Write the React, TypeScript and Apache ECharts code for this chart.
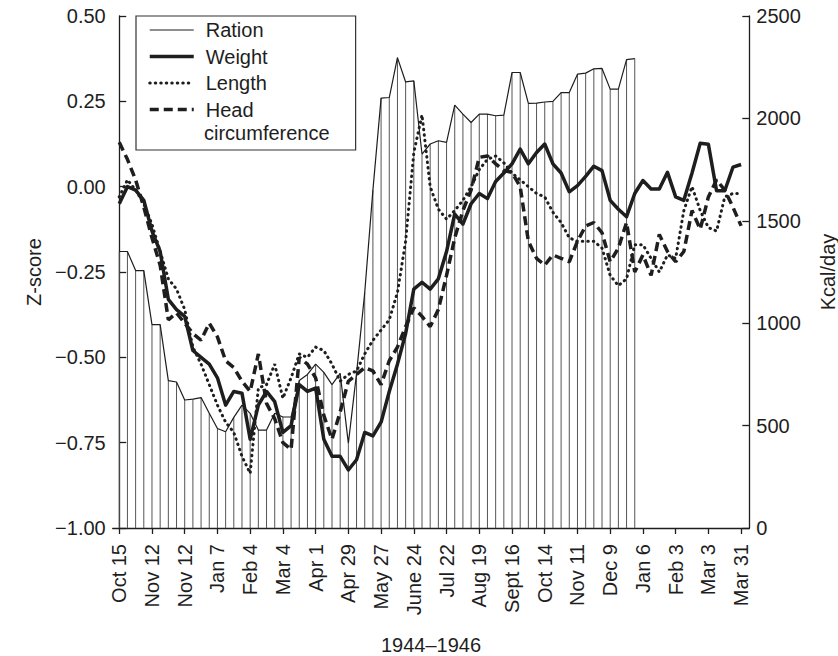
import React, { useEffect, useRef } from 'react';
import * as echarts from 'echarts';

// Tick labels every 4 weeks (weekly data, Oct 15 1944 – Mar 31 1946)
const tickLabels = ['Oct 15', 'Nov 12', 'Nov 12', 'Jan 7', 'Feb 4', 'Mar 4', 'Apr 1', 'Apr 29', 'May 27', 'June 24', 'Jul 22', 'Aug 19', 'Sept 16', 'Oct 14', 'Nov 11', 'Dec 9', 'Jan 6', 'Feb 3', 'Mar 3', 'Mar 31'];
const weekCount = 77;

// Kcal/day (right axis), weekly, ends Dec 30 1945
const ration = [1350, 1350, 1257, 1257, 993, 993, 720, 713, 625, 629, 637, 560, 486, 470, 540, 600, 560, 478, 478, 560, 542, 542, 720, 750, 800, 760, 700, 755, 413, 755, 1150, 1650, 2099, 2102, 2297, 2178, 2183, 1826, 1875, 1891, 1883, 2065, 2021, 1980, 2021, 2021, 2013, 2016, 2224, 2224, 2073, 2075, 2080, 2083, 2126, 2126, 2216, 2221, 2242, 2244, 2143, 2143, 2287, 2292];

// Z-scores (left axis)
const weight = [-0.05, 0.0, -0.01, -0.04, -0.13, -0.19, -0.33, -0.36, -0.38, -0.48, -0.5, -0.52, -0.56, -0.64, -0.6, -0.605, -0.74, -0.64, -0.6, -0.63, -0.72, -0.7, -0.58, -0.6, -0.59, -0.74, -0.79, -0.79, -0.83, -0.8, -0.72, -0.73, -0.69, -0.6, -0.52, -0.43, -0.3, -0.28, -0.3, -0.27, -0.19, -0.08, -0.11, -0.05, -0.02, -0.035, 0.015, 0.04, 0.067, 0.11, 0.067, 0.1, 0.125, 0.067, 0.04, -0.015, 0.003, 0.03, 0.06, 0.047, -0.04, -0.066, -0.088, -0.02, 0.018, -0.007, -0.007, 0.042, -0.03, -0.04, 0.04, 0.127, 0.124, -0.012, -0.012, 0.057, 0.065];
const lengthZ = [-0.03, 0.02, -0.01, -0.05, -0.11, -0.19, -0.27, -0.3, -0.36, -0.47, -0.52, -0.58, -0.64, -0.69, -0.72, -0.79, -0.84, -0.59, -0.58, -0.52, -0.62, -0.56, -0.49, -0.5, -0.47, -0.48, -0.52, -0.57, -0.55, -0.54, -0.49, -0.45, -0.42, -0.39, -0.31, -0.16, 0.1, 0.21, 0.0, -0.066, -0.095, -0.07, -0.04, 0.0, 0.05, 0.08, 0.09, 0.07, 0.04, 0.02, 0.0, -0.02, -0.03, -0.075, -0.105, -0.15, -0.16, -0.16, -0.16, -0.18, -0.26, -0.29, -0.27, -0.17, -0.17, -0.21, -0.25, -0.2, -0.21, -0.07, 0.0, -0.07, -0.12, -0.13, -0.03, -0.02, -0.02];
const headZ = [0.13, 0.08, 0.02, -0.06, -0.15, -0.23, -0.39, -0.37, -0.4, -0.43, -0.45, -0.4, -0.44, -0.51, -0.53, -0.57, -0.6, -0.49, -0.635, -0.68, -0.75, -0.77, -0.5, -0.52, -0.56, -0.67, -0.74, -0.66, -0.57, -0.55, -0.53, -0.54, -0.58, -0.51, -0.47, -0.41, -0.355, -0.38, -0.41, -0.36, -0.26, -0.15, -0.07, -0.01, 0.086, 0.09, 0.067, 0.047, 0.042, 0.0, -0.16, -0.21, -0.23, -0.2, -0.21, -0.22, -0.16, -0.115, -0.105, -0.135, -0.22, -0.18, -0.105, -0.25, -0.2, -0.26, -0.14, -0.19, -0.22, -0.19, -0.07, -0.125, -0.03, 0.02, -0.01, -0.06, -0.115];

const FONT = '"Liberation Sans", Arial, Helvetica, sans-serif';
const INK = '#1e1e1e';

export default function App() {
  const ref = useRef<HTMLDivElement>(null);
  useEffect(() => {
    if (!ref.current) return;
    document.documentElement.style.overflow = 'hidden';
    document.body.style.margin = '0';
    document.body.style.overflow = 'hidden';
    const chart = echarts.init(ref.current, null, { renderer: 'svg', width: 838, height: 656 });
    const pairs = (arr: number[]) => arr.map((v, i) => [i, v]);
    const tickWeeks = tickLabels.map((_, k) => k * 4);
    const axisLineStyle = { color: INK, width: 1.3 };
    const labelStyle = { fontSize: 20, color: INK, fontFamily: FONT };

    const option: any = {
      animation: false,
      backgroundColor: '#ffffff',
      textStyle: { fontFamily: FONT },
      grid: { left: 112.7, right: 88.7, top: 16, bottom: 128, containLabel: false, outerBoundsMode: 'none' },
      xAxis: {
        type: 'value', min: -0.8, max: weekCount,
        axisLine: { show: true, onZero: false, lineStyle: axisLineStyle },
        axisTick: { show: true, length: 6, lineStyle: axisLineStyle, customValues: tickWeeks },
        axisLabel: {
          rotate: 90, margin: 16, ...labelStyle, customValues: tickWeeks,
          formatter: (v: number) => tickLabels[Math.round(v / 4)] ?? '',
        },
        splitLine: { show: false },
        name: '1944–1946', nameLocation: 'middle', nameGap: 107,
        nameTextStyle: labelStyle,
      },
      yAxis: [
        {
          type: 'value', min: -1, max: 0.5, interval: 0.25, position: 'left',
          axisLine: { show: true, lineStyle: axisLineStyle },
          axisTick: { show: true, inside: true, length: 7, lineStyle: axisLineStyle },
          axisLabel: {
            ...labelStyle, margin: 7,
            formatter: (v: number) => (v < 0 ? '\u2212' : '') + Math.abs(v).toFixed(2),
          },
          splitLine: { show: false },
          name: 'Z-score', nameLocation: 'middle', nameRotate: 90, nameGap: 66,
          nameTextStyle: labelStyle,
        },
        {
          type: 'value', min: 0, max: 2500, interval: 500, position: 'right',
          axisLine: { show: true, lineStyle: axisLineStyle },
          axisTick: { show: true, inside: true, length: 7, lineStyle: axisLineStyle },
          axisLabel: { ...labelStyle, margin: 7, formatter: (v: number) => String(v) },
          splitLine: { show: false },
          name: 'Kcal/day', nameLocation: 'middle', nameRotate: 90, nameGap: 69,
          nameTextStyle: labelStyle,
        },
      ],
      legend: {
        show: true, orient: 'vertical', left: 136, top: 16,
        padding: [2.5, 88, 29, 12],
        itemWidth: 44, itemHeight: 14, itemGap: 3.5,
        borderColor: '#333', borderWidth: 1.2, backgroundColor: '#fff',
        textStyle: { fontSize: 20, lineHeight: 23, color: INK, fontFamily: FONT, padding: [0, 0, 0, 7] },
        itemStyle: { color: 'rgba(0,0,0,0)', borderWidth: 0, opacity: 0 },
        formatter: (name: string) => (name === 'Head circumference' ? 'Head' : name),
        data: [
          { name: 'Ration', lineStyle: { width: 1.2, color: INK, type: 'solid' } },
          { name: 'Weight', lineStyle: { width: 3.5, color: INK, type: 'solid' } },
          { name: 'Length', lineStyle: { width: 3, color: INK, type: [0.5, 5], cap: 'round' } },
          { name: 'Head circumference', lineStyle: { width: 3.5, color: INK, type: [9, 5] } },
        ],
      },
      graphic: [
        {
          type: 'text', x: 204, y: 133, z: 100,
          style: { text: 'circumference', fontSize: 20, fontFamily: FONT, fill: INK, verticalAlign: 'middle' },
        },
      ],
      series: [
        {
          name: 'Ration bars', type: 'bar', yAxisIndex: 1, data: pairs(ration),
          barWidth: 1, itemStyle: { color: '#555' }, silent: true, z: 1,
        },
        {
          name: 'Ration', type: 'line', yAxisIndex: 1, data: pairs(ration),
          symbol: 'none', lineStyle: { width: 1.2, color: INK }, itemStyle: { color: INK }, z: 2,
        },
        {
          name: 'Weight', type: 'line', yAxisIndex: 0, data: pairs(weight),
          symbol: 'none', lineStyle: { width: 3.5, color: INK, join: 'round' }, itemStyle: { color: INK }, z: 4,
        },
        {
          name: 'Length', type: 'line', yAxisIndex: 0, data: pairs(lengthZ),
          symbol: 'none', lineStyle: { width: 3, color: INK, type: [0.5, 5], cap: 'round' }, itemStyle: { color: INK }, z: 3,
        },
        {
          name: 'Head circumference', type: 'line', yAxisIndex: 0, data: pairs(headZ),
          symbol: 'none', lineStyle: { width: 3.5, color: INK, type: [9, 5] }, itemStyle: { color: INK }, z: 3,
        },
      ],
    };
    chart.setOption(option);
    return () => chart.dispose();
  }, []);
  return <div ref={ref} style={{ position: 'absolute', left: 0, top: 0, width: 838, height: 656, overflow: 'hidden' }} />;
}
